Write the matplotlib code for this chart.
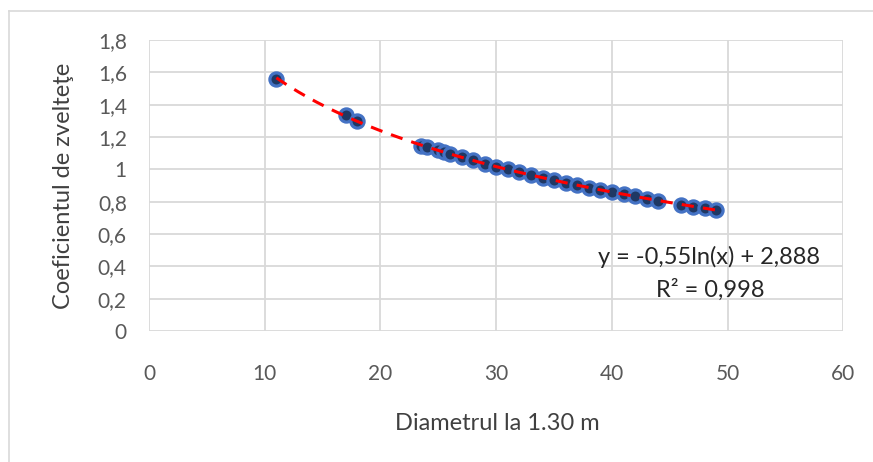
import numpy as np
import matplotlib
matplotlib.use("Agg")
import matplotlib.pyplot as plt
from matplotlib.lines import Line2D

plt.rcParams['font.family'] = ['Lato', 'DejaVu Sans']

# Data
diametru = [11, 17, 18, 23.5, 24, 25, 25.5, 26, 27, 28, 29, 30, 31, 32, 33, 34, 35,
            36, 37, 38, 39, 40, 41, 42, 43, 44, 46, 47, 48, 49]
coeficient = [1.56, 1.335, 1.30, 1.145, 1.138, 1.118, 1.107, 1.096, 1.075, 1.055,
              1.036, 1.017, 0.999, 0.982, 0.965, 0.949, 0.933, 0.917, 0.902, 0.887,
              0.873, 0.859, 0.845, 0.832, 0.819, 0.807, 0.782, 0.770, 0.759, 0.747]
x_ticks = [0, 10, 20, 30, 40, 50, 60]
y_ticks = [0, 0.2, 0.4, 0.6, 0.8, 1.0, 1.2, 1.4, 1.6, 1.8]
y_tick_labels = ["0", "0,2", "0,4", "0,6", "0,8", "1", "1,2", "1,4", "1,6", "1,8"]
x_label = "Diametrul la 1.30 m"
y_label = "Coeficientul de zvelteţe"
eq_line1 = "y = -0,55ln(x) + 2,888"
eq_line2 = "R² = 0,998"

W, H = 873, 462
fig = plt.figure(figsize=(W / 100, H / 100), dpi=100)

# outer chart border (left and top visible)
fig.add_artist(Line2D([9 / W, 9 / W], [0, 1 - 11 / H], color="#d9d9d9", lw=1.2))
fig.add_artist(Line2D([9 / W, 1], [1 - 11 / H, 1 - 11 / H], color="#d9d9d9", lw=1.2))

ax = fig.add_axes([149 / W, (H - 331) / H, (843.5 - 149) / W, (331 - 40) / H])
ax.set_xlim(0, 60)
ax.set_ylim(0, 1.8)
ax.set_xticks(x_ticks)
ax.set_yticks(y_ticks)
ax.set_yticklabels(y_tick_labels)
ax.grid(True, color="#d9d9d9", lw=1.3)
ax.set_axisbelow(True)
for s in ax.spines.values():
    s.set_visible(False)
ax.tick_params(length=0, labelsize=15, labelcolor="#595959")
ax.tick_params(axis="x", pad=24)
ax.tick_params(axis="y", pad=16)

ax.plot(diametru, coeficient, linestyle="none", marker="o", markersize=9.5,
        markerfacecolor="#1f3864", markeredgecolor="#4472c4", markeredgewidth=2.3,
        zorder=3)

# logarithmic trendline fitted from the data
xd = np.array(diametru, dtype=float)
yd = np.array(coeficient, dtype=float)
b, a = np.polyfit(np.log(xd), yd, 1)
xt = np.linspace(xd.min(), xd.max(), 200)
ax.plot(xt, b * np.log(xt) + a, color="#ff0000", lw=2.2, dashes=(4, 3), zorder=4)

fig.text(709 / W, 1 - 257 / H, eq_line1, ha="center", va="center", fontsize=17,
         color="#262626")
fig.text(710 / W, 1 - 290 / H, eq_line2, ha="center", va="center", fontsize=17,
         color="#262626")

fig.text(497 / W, 1 - 423 / H, x_label, ha="center", va="center", fontsize=17,
         color="#404040")
fig.text(64 / W, 1 - 186 / H, y_label, ha="center", va="center", fontsize=17,
         color="#404040", rotation=90)

fig.savefig("out.png", dpi=100)
